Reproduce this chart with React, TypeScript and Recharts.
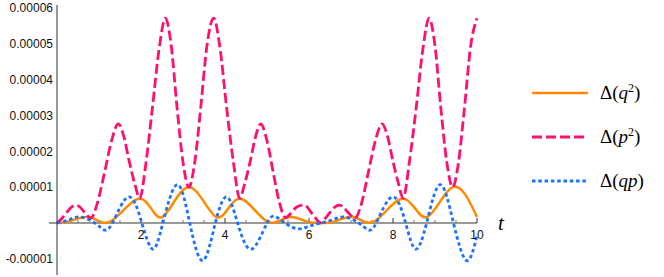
import React from "react";
import { LineChart, Line, XAxis, YAxis, ReferenceLine, ReferenceDot } from "recharts";

// values: [t, value]
const q2Points: [number, number][] = [
  [0, 0], [0.3, 0.05e-5], [0.79, 0.16e-5], [1.3, 0.06e-5], [2.0, 0.68e-5], [2.5, 0.16e-5],
  [3.14, 1.0e-5], [3.8, 0.16e-5], [4.32, 0.68e-5], [4.98, 0.06e-5], [5.5, 0.16e-5],
  [5.95, 0.04e-5], [6.28, 0], [6.6, 0.04e-5], [7.08, 0.16e-5], [7.58, 0.06e-5],
  [8.26, 0.68e-5], [8.8, 0.16e-5], [9.42, 1.0e-5], [10, 0.17e-5],
];

const p2Points: [number, number][] = [
  [0, 0], [0.11, 0.12e-5], [0.22, 0.28e-5], [0.34, 0.44e-5], [0.45, 0.5e-5], [0.55, 0.44e-5],
  [0.64, 0.32e-5], [0.72, 0.21e-5], [0.8, 0.13e-5], [0.96, 0.55e-5], [1.13, 1.4e-5],
  [1.3, 2.3e-5], [1.46, 2.77e-5], [1.59, 2.42e-5], [1.72, 1.72e-5], [1.85, 1.1e-5],
  [1.97, 0.69e-5], [2.12, 1.7e-5], [2.27, 3.2e-5], [2.43, 4.85e-5], [2.58, 5.72e-5],
  [2.72, 4.95e-5], [2.86, 3.2e-5], [3.0, 1.7e-5], [3.14, 1.0e-5], [3.28, 1.7e-5],
  [3.42, 3.2e-5], [3.57, 4.95e-5], [3.73, 5.72e-5], [3.88, 4.9e-5], [4.04, 3.2e-5],
  [4.2, 1.7e-5], [4.35, 0.69e-5], [4.47, 1.1e-5], [4.6, 1.72e-5], [4.73, 2.42e-5],
  [4.85, 2.77e-5], [5.0, 2.3e-5], [5.15, 1.4e-5], [5.3, 0.55e-5], [5.44, 0.15e-5],
  [5.52, 0.21e-5], [5.6, 0.32e-5], [5.7, 0.44e-5], [5.86, 0.5e-5], [5.96, 0.44e-5],
  [6.06, 0.28e-5], [6.17, 0.12e-5], [6.27, 0], [6.38, 0.12e-5], [6.49, 0.28e-5],
  [6.61, 0.44e-5], [6.72, 0.5e-5], [6.82, 0.44e-5], [6.91, 0.32e-5], [7.0, 0.21e-5],
  [7.09, 0.13e-5], [7.25, 0.55e-5], [7.41, 1.4e-5], [7.58, 2.3e-5], [7.74, 2.77e-5],
  [7.87, 2.42e-5], [8.0, 1.72e-5], [8.13, 1.1e-5], [8.24, 0.69e-5], [8.39, 1.7e-5],
  [8.55, 3.2e-5], [8.71, 4.85e-5], [8.86, 5.72e-5], [9.0, 4.95e-5], [9.14, 3.2e-5],
  [9.28, 1.7e-5], [9.42, 1.0e-5], [9.56, 1.7e-5], [9.7, 3.2e-5], [9.85, 4.95e-5],
  [10, 5.72e-5],
];

const qpPoints: [number, number][] = [
  [0, 0], [0.28, 0.09e-5], [0.55, 0.17e-5], [0.9, 0], [1.1, -0.18e-5], [1.32, 0],
  [1.7, 0.73e-5], [2.02, 0], [2.28, -0.73e-5], [2.52, 0], [2.86, 1.07e-5], [3.16, 0],
  [3.47, -1.05e-5], [3.77, 0], [4.04, 0.73e-5], [4.3, 0], [4.63, -0.73e-5], [5.0, 0],
  [5.22, 0.17e-5], [5.43, 0], [5.72, -0.16e-5], [6.0, -0.09e-5], [6.28, 0],
  [6.56, 0.09e-5], [6.85, 0.17e-5], [7.18, 0], [7.4, -0.18e-5], [7.6, 0],
  [7.98, 0.73e-5], [8.3, 0], [8.54, -0.73e-5], [8.8, 0], [9.12, 1.07e-5], [9.44, 0],
  [9.75, -1.05e-5], [10, -0.35e-5],
];

const xTicks = [2, 4, 6, 8, 10];
const yTicks = [-0.00001, 0, 0.00001, 0.00002, 0.00003, 0.00004, 0.00005, 0.00006];

const X_DOMAIN: [number, number] = [0, 10];
const Y_DOMAIN: [number, number] = [-1.4525e-5, 6.089e-5];

const AXIS = "#333333";
const TICK = "#777777";
const FONT = "'Liberation Sans', Arial, sans-serif";
const SERIF = "'Liberation Serif', 'DejaVu Serif', serif";

// minor ticks every 0.5 on t, every 2e-6 on y
const xMinor: number[] = [];
for (let i = 1; i <= 20; i++) if (i % 4 !== 0) xMinor.push(i / 2);
const yMinor: number[] = [];
for (let i = -7; i <= 30; i++) if (i % 5 !== 0) yMinor.push(i * 2e-6);

const series = [
  { key: "q2", label: "q", sup: "2", color: "#ff8a00", dash: undefined as string | undefined, width: 2.5, points: q2Points },
  { key: "p2", label: "p", sup: "2", color: "#ff0f70", dash: "10 4", width: 2.8, points: p2Points },
  { key: "qp", label: "qp", sup: "", color: "#1a72ff", dash: "3.5 2.8", width: 2.8, points: qpPoints },
];

const toRows = (pts: [number, number][]) => pts.map(([t, v]) => ({ t, v }));

function LegendBox() {
  return (
    <div style={{ position: "absolute", left: 532, top: 71, fontFamily: SERIF }}>
      {series.map((s) => (
        <div key={s.key} style={{ display: "flex", alignItems: "center", height: 44 }}>
          <svg width={56} height={10} style={{ display: "block" }}>
            <line x1={0} y1={5} x2={56} y2={5} stroke={s.color} strokeWidth={s.width} strokeDasharray={s.dash} />
          </svg>
          <span style={{ marginLeft: 12, fontSize: 19, color: "#000", whiteSpace: "nowrap", fontFamily: SERIF }}>
            Δ(<i>{s.label}</i>
            {s.sup ? <sup style={{ fontSize: 12 }}>{s.sup}</sup> : null})
          </span>
        </div>
      ))}
    </div>
  );
}

export default function App() {
  return (
    <div style={{ position: "absolute", left: 0, top: 0, width: 664, height: 277, background: "#fff" }}>
      <LineChart width={664} height={277} margin={{ top: 5, right: 187, bottom: 2, left: 0 }}>
        <XAxis type="number" dataKey="t" domain={X_DOMAIN} hide allowDuplicatedCategory={false} />
        <YAxis
          type="number"
          domain={Y_DOMAIN}
          width={57}
          ticks={yTicks}
          interval={0}
          tickLine={false}
          tickSize={0}
          tickMargin={4}
          axisLine={{ stroke: AXIS }}
          tick={{ fontSize: 12, fill: "#111", fontFamily: FONT }}
          tickFormatter={(v: number) => (v === 0 ? "" : v.toFixed(5))}
        />
        {/* inward tick marks on the y axis */}
        <YAxis yAxisId="ymaj" type="number" domain={Y_DOMAIN} mirror ticks={yTicks} interval={0} tick={false}
          tickSize={5} tickLine={{ stroke: AXIS }} axisLine={false} />
        <YAxis yAxisId="ymin" type="number" domain={Y_DOMAIN} mirror ticks={yMinor} interval={0} tick={false}
          tickSize={3} tickLine={{ stroke: TICK }} axisLine={false} />

        {/* x axis drawn through y = 0 */}
        <ReferenceLine
          segment={[{ x: -0.19, y: 0 }, { x: 10, y: 0 }]}
          ifOverflow="visible"
          stroke={AXIS}
          label={{ value: "t", position: "right", offset: 21, fontSize: 21, fontStyle: "italic", fill: "#000", fontFamily: SERIF }}
        />
        {xMinor.map((t) => (
          <ReferenceLine key={"xm" + t} segment={[{ x: t, y: 0 }, { x: t, y: 0.084e-5 }]} stroke={TICK} ifOverflow="visible" />
        ))}
        {xTicks.map((t) => (
          <ReferenceLine key={"xM" + t} segment={[{ x: t, y: 0 }, { x: t, y: 0.14e-5 }]} stroke={AXIS} ifOverflow="visible" />
        ))}
        {xTicks.map((t) => (
          <ReferenceDot
            key={"xl" + t}
            x={t}
            y={0}
            r={0}
            fill="none"
            stroke="none"
            ifOverflow="visible"
            label={{ value: String(t), position: "bottom", offset: 7, fontSize: 12, fill: "#111", fontFamily: FONT }}
          />
        ))}

        {series.map((s) => (
          <Line
            key={s.key}
            data={toRows(s.points)}
            dataKey="v"
            type={s.key === "p2" ? "monotone" : "natural"}
            stroke={s.color}
            strokeWidth={s.width}
            strokeDasharray={s.dash}
            dot={false}
            activeDot={false}
            isAnimationActive={false}
          />
        ))}
      </LineChart>
      <LegendBox />
    </div>
  );
}
